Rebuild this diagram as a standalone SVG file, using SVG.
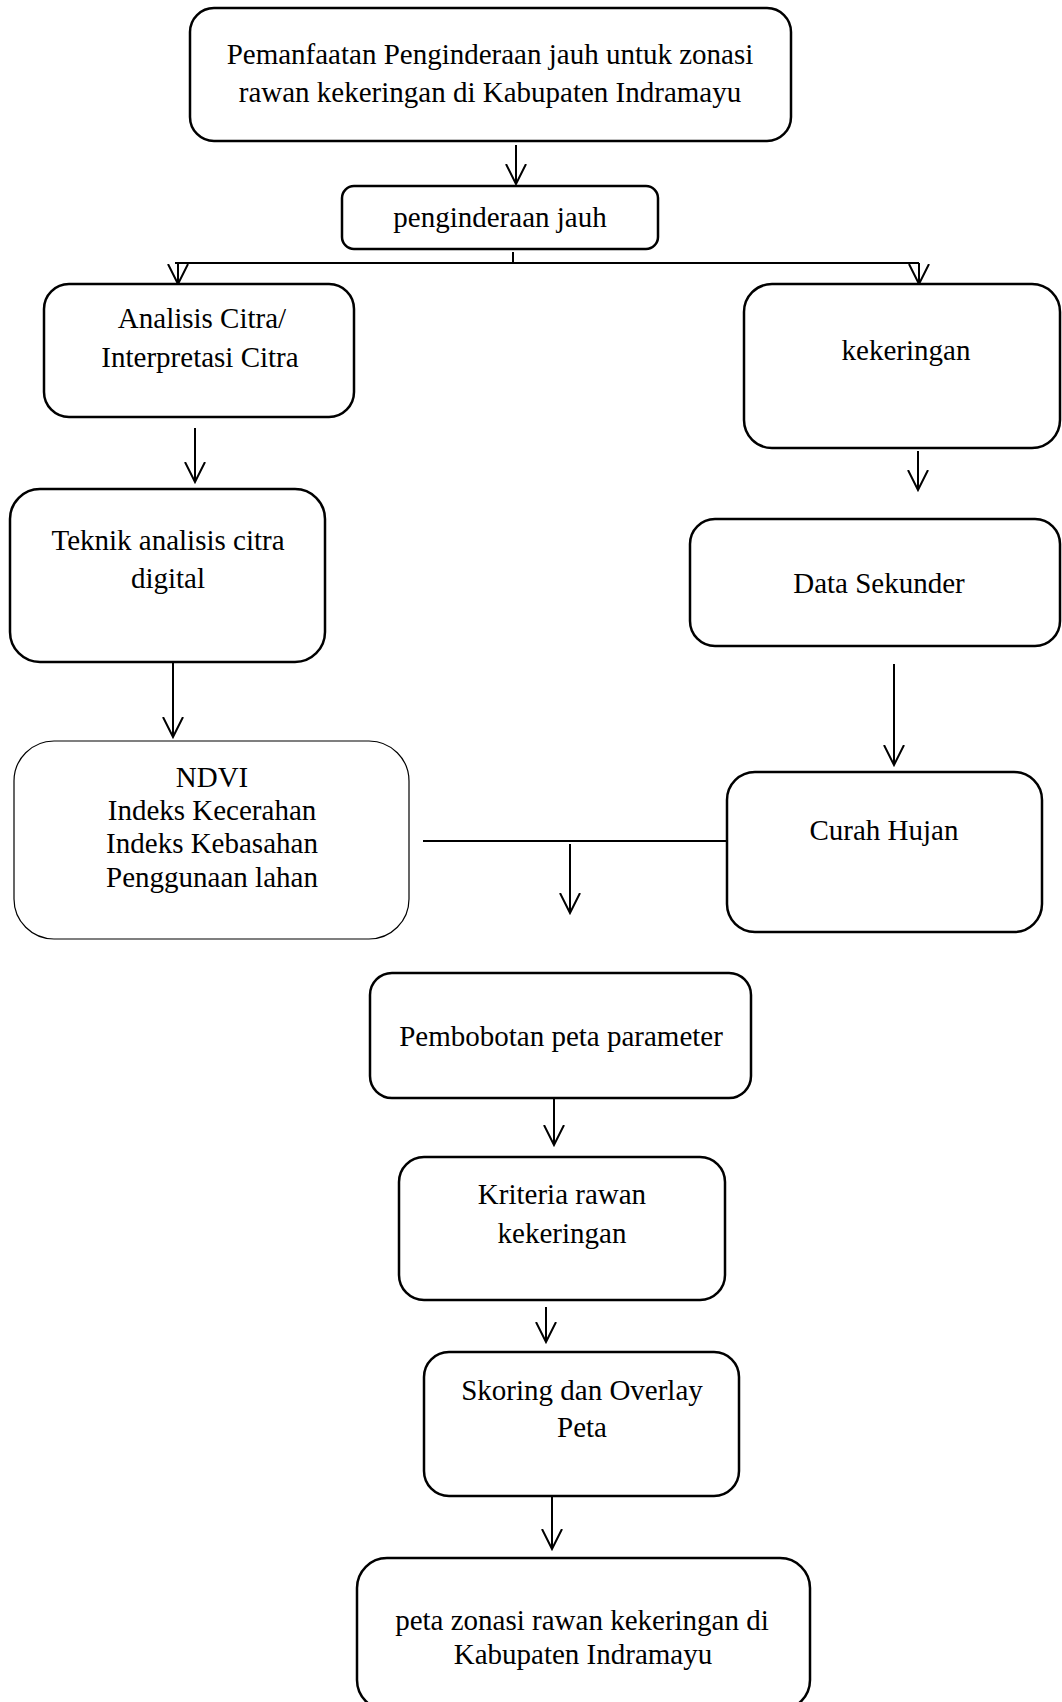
<svg xmlns="http://www.w3.org/2000/svg" width="1062" height="1702" viewBox="0 0 1062 1702">
<style>
.box{fill:#fff;stroke:#000;stroke-width:2.5}
.thin{fill:#fff;stroke:#000;stroke-width:1.2}
.t{font-family:"Liberation Serif","Times New Roman",serif;font-size:29px;fill:#000;text-anchor:middle}
.c{fill:none;stroke:#000;stroke-width:2}
.a{fill:none;stroke:#000;stroke-width:2;marker-end:url(#ah)}
</style>
<defs>
<marker id="ah" viewBox="0 0 22 22" refX="20" refY="11" markerWidth="22" markerHeight="22" markerUnits="userSpaceOnUse" orient="auto">
<path d="M0,1 L20,11 L0,21" fill="none" stroke="#000" stroke-width="2"/>
</marker>
</defs>
<rect width="1062" height="1702" fill="#fff"/>
<g id="connectors">
<line class="a" x1="516" y1="145" x2="516" y2="184"/>
<line class="c" x1="513" y1="252" x2="513" y2="263"/>
<line class="c" x1="175" y1="263" x2="919" y2="263"/>
<line class="a" x1="178" y1="263" x2="178" y2="284"/>
<line class="a" x1="919" y1="263" x2="919" y2="284"/>
<line class="a" x1="195" y1="428" x2="195" y2="482"/>
<line class="a" x1="918" y1="451" x2="918" y2="490"/>
<line class="a" x1="173" y1="662" x2="173" y2="737"/>
<line class="a" x1="894" y1="664" x2="894" y2="765"/>
<line class="c" x1="423" y1="841" x2="727" y2="841"/>
<line class="a" x1="570" y1="844" x2="570" y2="913"/>
<line class="a" x1="554" y1="1098" x2="554" y2="1145"/>
<line class="a" x1="546" y1="1307" x2="546" y2="1342"/>
<line class="a" x1="552" y1="1494" x2="552" y2="1549"/>
</g>
<g id="n-top">
<rect class="box" x="190" y="8" width="601" height="133" rx="24"/>
<text class="t" x="490" y="64">Pemanfaatan Penginderaan jauh untuk zonasi</text>
<text class="t" x="490" y="102">rawan kekeringan di Kabupaten Indramayu</text>
</g>
<g id="n-penginderaan">
<rect class="box" x="342" y="186" width="316" height="63" rx="12"/>
<text class="t" x="500" y="227">penginderaan jauh</text>
</g>
<g id="n-analisis">
<rect class="box" x="44" y="284" width="310" height="133" rx="25"/>
<text class="t" x="202" y="328">Analisis Citra/</text>
<text class="t" x="200" y="367">Interpretasi Citra</text>
</g>
<g id="n-kekeringan">
<rect class="box" x="744" y="284" width="316" height="164" rx="28"/>
<text class="t" x="906" y="360">kekeringan</text>
</g>
<g id="n-teknik">
<rect class="box" x="10" y="489" width="315" height="173" rx="30"/>
<text class="t" x="168" y="550">Teknik analisis citra</text>
<text class="t" x="168" y="588">digital</text>
</g>
<g id="n-data">
<rect class="box" x="690" y="519" width="370" height="127" rx="25"/>
<text class="t" x="879" y="593">Data Sekunder</text>
</g>
<g id="n-ndvi">
<rect class="thin" x="14" y="741" width="395" height="198" rx="40"/>
<text class="t" x="212" y="787">NDVI</text>
<text class="t" x="212" y="820">Indeks Kecerahan</text>
<text class="t" x="212" y="853">Indeks Kebasahan</text>
<text class="t" x="212" y="887">Penggunaan lahan</text>
</g>
<g id="n-curah">
<rect class="box" x="727" y="772" width="315" height="160" rx="28"/>
<text class="t" x="884" y="840">Curah Hujan</text>
</g>
<g id="n-pembobotan">
<rect class="box" x="370" y="973" width="381" height="125" rx="22"/>
<text class="t" x="561" y="1046">Pembobotan peta parameter</text>
</g>
<g id="n-kriteria">
<rect class="box" x="399" y="1157" width="326" height="143" rx="25"/>
<text class="t" x="562" y="1204">Kriteria rawan</text>
<text class="t" x="562" y="1243">kekeringan</text>
</g>
<g id="n-skoring">
<rect class="box" x="424" y="1352" width="315" height="144" rx="25"/>
<text class="t" x="582" y="1400">Skoring dan Overlay</text>
<text class="t" x="582" y="1437">Peta</text>
</g>
<g id="n-peta">
<rect class="box" x="357" y="1558" width="453" height="152" rx="30"/>
<text class="t" x="582" y="1630">peta zonasi rawan kekeringan di</text>
<text class="t" x="583" y="1664">Kabupaten Indramayu</text>
</g>
</svg>
